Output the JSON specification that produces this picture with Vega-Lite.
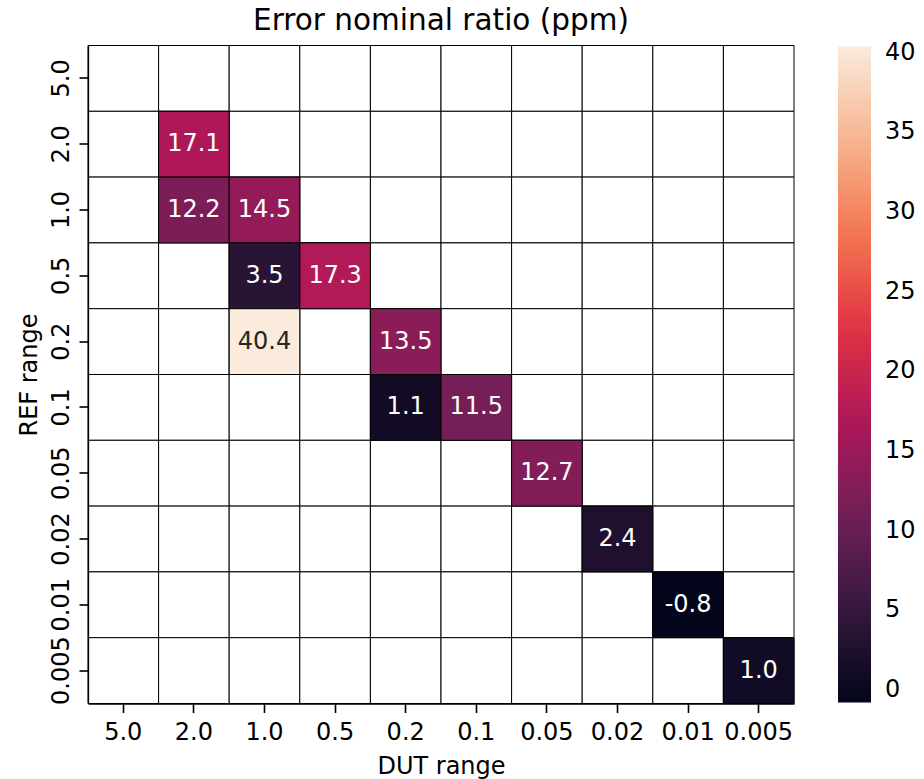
{
  "$schema": "https://vega.github.io/schema/vega-lite/v6.json",
  "autosize": {"type": "none"},
  "padding": {"left": 88, "top": 45.5, "right": 130, "bottom": 75},
  "width": 706,
  "height": 658,
  "background": "white",
  "title": {"text": "Error nominal ratio (ppm)", "font": "DejaVu Sans", "fontSize": 29.5, "fontWeight": "normal", "color": "black", "anchor": "middle", "offset": 9},
  "config": {
    "locale": {"number": {"decimal": ".", "thousands": ",", "grouping": [3], "currency": ["$", ""], "minus": "-"}},
    "view": {"stroke": null},
    "axis": {"labelFont": "DejaVu Sans", "titleFont": "DejaVu Sans", "labelFontSize": 24, "titleFontSize": 24, "titleFontWeight": "normal", "labelColor": "black", "titleColor": "black", "domainColor": "black", "domainWidth": 1.3, "tickColor": "black", "tickWidth": 1.6, "tickSize": 9, "grid": false},
    "legend": {"labelFont": "DejaVu Sans", "labelFontSize": 24, "labelColor": "black"}
  },
  "data": {"values": [
    {"dut":"5.0","ref":"5.0","v":null},{"dut":"2.0","ref":"5.0","v":null},{"dut":"1.0","ref":"5.0","v":null},{"dut":"0.5","ref":"5.0","v":null},{"dut":"0.2","ref":"5.0","v":null},{"dut":"0.1","ref":"5.0","v":null},{"dut":"0.05","ref":"5.0","v":null},{"dut":"0.02","ref":"5.0","v":null},{"dut":"0.01","ref":"5.0","v":null},{"dut":"0.005","ref":"5.0","v":null},
    {"dut":"5.0","ref":"2.0","v":null},{"dut":"2.0","ref":"2.0","v":17.1},{"dut":"1.0","ref":"2.0","v":null},{"dut":"0.5","ref":"2.0","v":null},{"dut":"0.2","ref":"2.0","v":null},{"dut":"0.1","ref":"2.0","v":null},{"dut":"0.05","ref":"2.0","v":null},{"dut":"0.02","ref":"2.0","v":null},{"dut":"0.01","ref":"2.0","v":null},{"dut":"0.005","ref":"2.0","v":null},
    {"dut":"5.0","ref":"1.0","v":null},{"dut":"2.0","ref":"1.0","v":12.2},{"dut":"1.0","ref":"1.0","v":14.5},{"dut":"0.5","ref":"1.0","v":null},{"dut":"0.2","ref":"1.0","v":null},{"dut":"0.1","ref":"1.0","v":null},{"dut":"0.05","ref":"1.0","v":null},{"dut":"0.02","ref":"1.0","v":null},{"dut":"0.01","ref":"1.0","v":null},{"dut":"0.005","ref":"1.0","v":null},
    {"dut":"5.0","ref":"0.5","v":null},{"dut":"2.0","ref":"0.5","v":null},{"dut":"1.0","ref":"0.5","v":3.5},{"dut":"0.5","ref":"0.5","v":17.3},{"dut":"0.2","ref":"0.5","v":null},{"dut":"0.1","ref":"0.5","v":null},{"dut":"0.05","ref":"0.5","v":null},{"dut":"0.02","ref":"0.5","v":null},{"dut":"0.01","ref":"0.5","v":null},{"dut":"0.005","ref":"0.5","v":null},
    {"dut":"5.0","ref":"0.2","v":null},{"dut":"2.0","ref":"0.2","v":null},{"dut":"1.0","ref":"0.2","v":40.4},{"dut":"0.5","ref":"0.2","v":null},{"dut":"0.2","ref":"0.2","v":13.5},{"dut":"0.1","ref":"0.2","v":null},{"dut":"0.05","ref":"0.2","v":null},{"dut":"0.02","ref":"0.2","v":null},{"dut":"0.01","ref":"0.2","v":null},{"dut":"0.005","ref":"0.2","v":null},
    {"dut":"5.0","ref":"0.1","v":null},{"dut":"2.0","ref":"0.1","v":null},{"dut":"1.0","ref":"0.1","v":null},{"dut":"0.5","ref":"0.1","v":null},{"dut":"0.2","ref":"0.1","v":1.1},{"dut":"0.1","ref":"0.1","v":11.5},{"dut":"0.05","ref":"0.1","v":null},{"dut":"0.02","ref":"0.1","v":null},{"dut":"0.01","ref":"0.1","v":null},{"dut":"0.005","ref":"0.1","v":null},
    {"dut":"5.0","ref":"0.05","v":null},{"dut":"2.0","ref":"0.05","v":null},{"dut":"1.0","ref":"0.05","v":null},{"dut":"0.5","ref":"0.05","v":null},{"dut":"0.2","ref":"0.05","v":null},{"dut":"0.1","ref":"0.05","v":null},{"dut":"0.05","ref":"0.05","v":12.7},{"dut":"0.02","ref":"0.05","v":null},{"dut":"0.01","ref":"0.05","v":null},{"dut":"0.005","ref":"0.05","v":null},
    {"dut":"5.0","ref":"0.02","v":null},{"dut":"2.0","ref":"0.02","v":null},{"dut":"1.0","ref":"0.02","v":null},{"dut":"0.5","ref":"0.02","v":null},{"dut":"0.2","ref":"0.02","v":null},{"dut":"0.1","ref":"0.02","v":null},{"dut":"0.05","ref":"0.02","v":null},{"dut":"0.02","ref":"0.02","v":2.4},{"dut":"0.01","ref":"0.02","v":null},{"dut":"0.005","ref":"0.02","v":null},
    {"dut":"5.0","ref":"0.01","v":null},{"dut":"2.0","ref":"0.01","v":null},{"dut":"1.0","ref":"0.01","v":null},{"dut":"0.5","ref":"0.01","v":null},{"dut":"0.2","ref":"0.01","v":null},{"dut":"0.1","ref":"0.01","v":null},{"dut":"0.05","ref":"0.01","v":null},{"dut":"0.02","ref":"0.01","v":null},{"dut":"0.01","ref":"0.01","v":-0.8},{"dut":"0.005","ref":"0.01","v":null},
    {"dut":"5.0","ref":"0.005","v":null},{"dut":"2.0","ref":"0.005","v":null},{"dut":"1.0","ref":"0.005","v":null},{"dut":"0.5","ref":"0.005","v":null},{"dut":"0.2","ref":"0.005","v":null},{"dut":"0.1","ref":"0.005","v":null},{"dut":"0.05","ref":"0.005","v":null},{"dut":"0.02","ref":"0.005","v":null},{"dut":"0.01","ref":"0.005","v":null},{"dut":"0.005","ref":"0.005","v":1.0}
  ]},
  "encoding": {
    "x": {"field": "dut", "type": "nominal", "sort": ["5.0","2.0","1.0","0.5","0.2","0.1","0.05","0.02","0.01","0.005"], "scale": {"paddingInner": 0, "paddingOuter": 0}, "axis": {"title": "DUT range", "labelAngle": 0, "labelPadding": 8, "titlePadding": 10}},
    "y": {"field": "ref", "type": "nominal", "sort": ["5.0","2.0","1.0","0.5","0.2","0.1","0.05","0.02","0.01","0.005"], "scale": {"paddingInner": 0, "paddingOuter": 0}, "axis": {"title": "REF range", "labelAngle": -90, "labelAlign": "center", "labelBaseline": "alphabetic", "labelPadding": 11, "titlePadding": 8}}
  },
  "layer": [
    {"mark": {"type": "rect", "fill": "white", "stroke": "black", "strokeWidth": 1}},
    {"transform": [{"filter": "isValid(datum.v)"}],
     "mark": {"type": "rect", "stroke": "black", "strokeWidth": 1},
     "encoding": {"color": {"field": "v", "type": "quantitative",
       "scale": {"type": "linear", "domain": [-0.8, 5.0857, 10.9714, 16.8571, 22.7429, 28.6286, 34.5143, 40.4], "range": ["#03051a", "#35193e", "#701f57", "#ad1759", "#e13342", "#f37651", "#f6b48f", "#faebdd"], "interpolate": "rgb"},
       "legend": {"title": null, "orient": "none", "legendX": 750, "legendY": 1, "direction": "vertical", "gradientLength": 656, "gradientThickness": 33, "gradientStrokeWidth": 0, "values": [0, 5, 10, 15, 20, 25, 30, 35, 40], "labelOverlap": false, "labelOffset": 14, "padding": 0}}}},
    {"transform": [{"filter": "isValid(datum.v)"}],
     "mark": {"type": "text", "font": "DejaVu Sans", "fontSize": 24},
     "encoding": {"text": {"field": "v", "type": "quantitative", "format": ".1f"},
       "color": {"condition": {"test": "datum.v > 30", "value": "#262626"}, "value": "white"}}}
  ]
}
